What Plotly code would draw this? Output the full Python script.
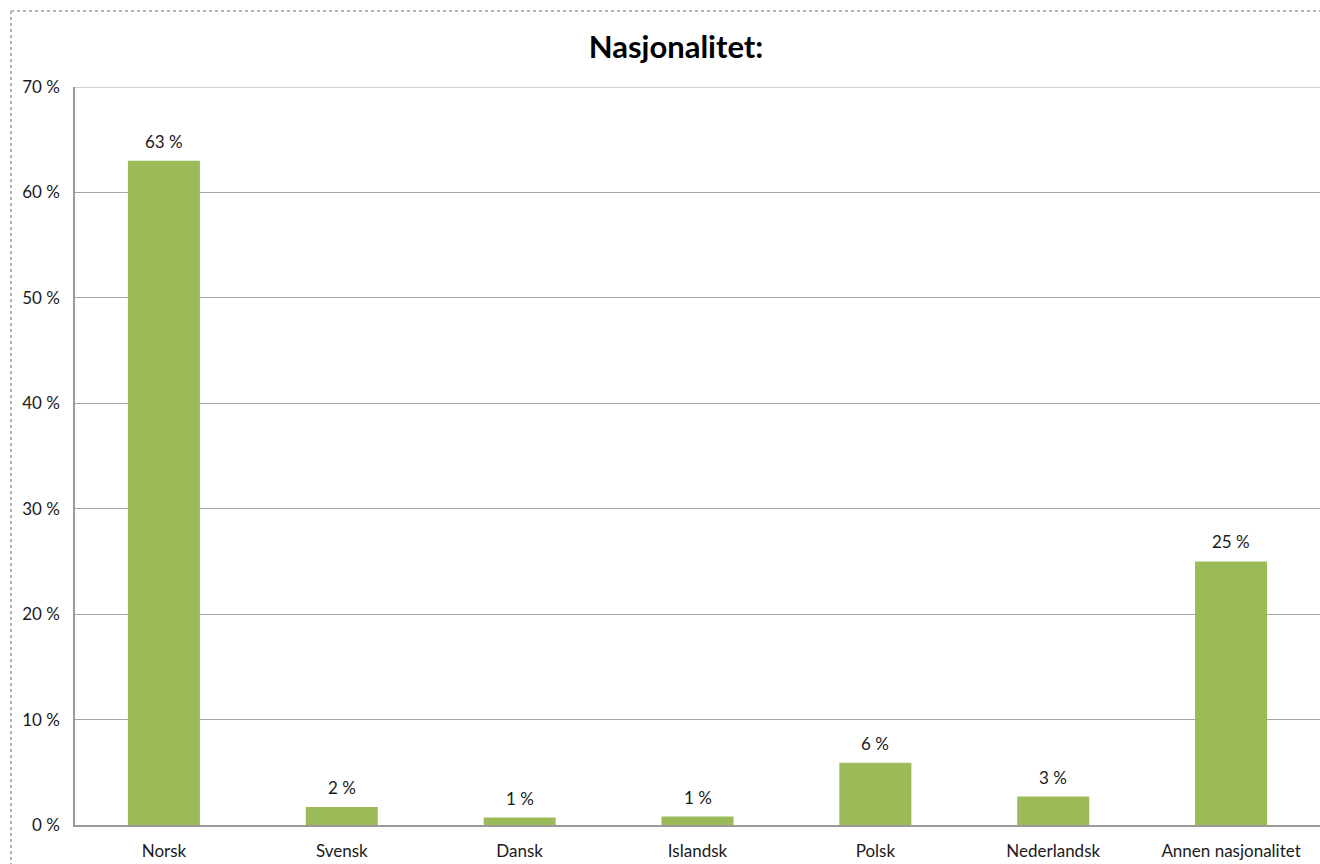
import plotly.graph_objects as go

categories = ["Norsk", "Svensk", "Dansk", "Islandsk", "Polsk", "Nederlandsk", "Annen nasjonalitet"]
values = [63.0, 1.7, 0.7, 0.8, 5.9, 2.7, 25.0]
value_labels = ["63 %", "2 %", "1 %", "1 %", "6 %", "3 %", "25 %"]
y_ticks = [0, 10, 20, 30, 40, 50, 60, 70]
y_tick_labels = ["0 %", "10 %", "20 %", "30 %", "40 %", "50 %", "60 %", "70 %"]

FONT = "Lato, Open Sans, sans-serif"
TXT = "#1a1a1a"
FS = 17
GRID = "#a6a6a6"

fig = go.Figure()
fig.add_trace(go.Bar(
    x=categories, y=values, marker=dict(color="#9BBB59", line=dict(width=0)),
    width=0.405, hoverinfo="skip",
))

for c, v, t in zip(categories, values, value_labels):
    fig.add_annotation(x=c, y=v, text=t, showarrow=False, yanchor="bottom",
                       yshift=7, font=dict(family=FONT, size=FS, color=TXT))

W, H = 1320, 864
L, R, T, B = 75, 0, 87, 39
pw, ph = W - L - R, H - T - B

def px(x):
    return (x - L) / pw

def py(y):
    return (H - B - y) / ph

# top gridline at the maximum tick
fig.add_shape(type="line", xref="paper", yref="y", x0=0, x1=1, y0=y_ticks[-1], y1=y_ticks[-1],
              line=dict(color=GRID, width=1), layer="below")

# outer chart border (dashed gray), left and top visible
fig.add_shape(type="line", xref="paper", yref="paper", x0=px(11), x1=px(11), y0=py(11), y1=py(870),
              line=dict(color="#9a9a9a", width=1.5, dash="dot"))
fig.add_shape(type="line", xref="paper", yref="paper", x0=px(11), x1=px(1330), y0=py(11), y1=py(11),
              line=dict(color="#9a9a9a", width=1.5, dash="dot"))

fig.update_layout(
    width=W, height=H,
    margin=dict(l=L, r=R, t=T, b=B),
    paper_bgcolor="white", plot_bgcolor="white",
    showlegend=False,
    title=dict(text="<b>Nasjonalitet:</b>", x=676 / W, xanchor="center", y=1 - 47 / H, yanchor="middle",
               font=dict(family=FONT, size=31, color="#000000")),
    font=dict(family=FONT, size=FS, color=TXT),
    bargap=0.6,
)
fig.update_xaxes(
    showgrid=False, showline=True, linecolor="#9a9a9a", linewidth=1.5,
    ticks="", tickfont=dict(family=FONT, size=FS, color=TXT), ticklabelstandoff=10,
    range=[-0.5, 6.5],
)
fig.update_yaxes(
    range=[0, 70], tickvals=y_ticks, ticktext=y_tick_labels,
    showgrid=True, gridcolor=GRID, gridwidth=1,
    showline=True, linecolor="#9a9a9a", linewidth=1.5,
    zeroline=False, ticks="", ticklabelstandoff=10,
    tickfont=dict(family=FONT, size=FS, color=TXT),
)

fig.write_html("out.html", config={"displayModeBar": False},
               post_script="document.body.style.margin='0';document.body.style.overflow='hidden';")
